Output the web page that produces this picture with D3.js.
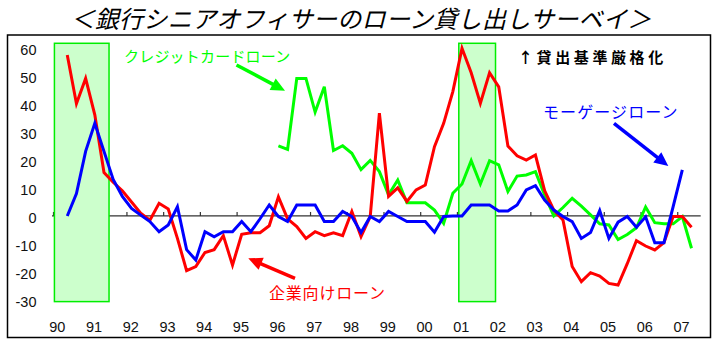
<!DOCTYPE html>
<html><head><meta charset="utf-8">
<script src="https://cdn.jsdelivr.net/npm/d3@7"></script>
<style>
html,body{margin:0;padding:0;background:#fff;}
svg{display:block;}
</style>
</head><body>
<svg id="chart" width="719" height="340"></svg>
<script>
// ---- data ----
const yearLabels = ["90","91","92","93","94","95","96","97","98","99","00","01","02","03","04","05","06","07"];
const yTicks = [60,50,40,30,20,10,0,-10,-20,-30];
// quarterly values, index 0 = 1990 Q1
const corporateLoans = [null,
  57.3,40,49,36, 15.5,12,9,5, 1,-1.5,4.5,2.5, -8,-19.5,-18,-13,
  -12,-7,-17.5,-6.5, -6,-6,-3.5,6.8, -1,-3.8,-8,-5.6, -7,-6,-7,1.6,
  -7.3,-0.2,36.6,7, 10,5.2,9.3,11, 24.7,33,44.3,59.7, 51,40.1,51,46,
  24.9,21.4,19.9,21.7, 9,2.1,-1.4,-18, -23.4,-20.2,-21.4,-24, -24.6,-17,-8.8,-10.7,
  -12.1,-9.5,-0.2,-0.2, -4];
const mortgageLoans = [null,
  0,8,23,33, 23,13,7,2.7, 0.3,-2,-5.6,-3.2, 3.3,-12,-15.7,-5.6,
  -7.4,-5.6,-5.6,-2, -5.6,-1,3.9,-0.2, -2,3.9,3.9,3.9, -2,-2,1.6,-0.2,
  -5.9,-0.2,-2,1.6, -0.2,-2,-2,-2, -5.8,-0.2,0,0, 3.9,3.9,3.9,1.8,
  1.8,3.9,9.3,10.8, 5.7,2.1,-0.2,-2, -8,-5.9,1.9,-8, -2.2,-0.2,-4,-0.3,
  -9.5,-9.5,3.3,16.4, null];
const creditCardLoans = [
  null,null,null,null, null,null,null,null, null,null,null,null, null,null,null,null,
  null,null,null,null, null,null,null,null,
  25,23.7,49,49, 37,46,23.3,25, 22.3,16.5,19.8,15.8, 7.5,12.8,4.7,4.7,
  4.7,2.1,-2.6,8.1, 11.4,19.7,11.4,19.7, 18.2,8.7,14.2,14.6, 15.8,7.5,0,3,
  6.3,3.5,0.4,-2.8, -3.2,-8.4,-6.6,-4.2, 3.2,-2.4,-2.8,-2.8, -0.2,-11.5];
// recession shading: [start quarter index, end quarter index]
const recessions = [[0.1,6.05],[44.15,48.15]];
const shadeRange = [-30.5, 61.5];

// ---- layout ----
const svg = d3.select("#chart");
const x = d3.scaleLinear().domain([0, 72]).range([53.5, 53.5 + 72*9.18]);
const y = d3.scaleLinear().domain([-30, 60]).range([300.2, 47.5]);

// title
svg.append("text").attr("x", 361).attr("y", 28).attr("text-anchor","middle")
  .attr("font-family","'Noto Sans CJK JP'").attr("font-size",24).attr("font-style","italic")
  .attr("letter-spacing",0.3)
  .attr("fill","#000").text("＜銀行シニアオフィサーのローン貸し出しサーベイ＞");

// frame
svg.append("rect").attr("x",7.5).attr("y",35).attr("width",703).attr("height",302.5)
  .attr("fill","#fff").attr("stroke","#000").attr("stroke-width",1.5);

// zero axis
svg.append("line").attr("x1",x(0)-1.5).attr("x2",x(70.5)).attr("y1",y(0)).attr("y2",y(0))
  .attr("stroke","#333").attr("stroke-width",1.3);
// year ticks (upward)
svg.selectAll(".tick").data(yearLabels).enter().append("line")
  .attr("x1",(d,i)=>x(i*4)).attr("x2",(d,i)=>x(i*4))
  .attr("y1",y(0)).attr("y2",y(0)-4).attr("stroke","#333").attr("stroke-width",1.2);

// shading
svg.selectAll(".shade").data(recessions).enter().append("rect")
  .attr("x",d=>x(d[0])).attr("width",d=>x(d[1])-x(d[0]))
  .attr("y",y(shadeRange[1])).attr("height",y(shadeRange[0])-y(shadeRange[1]))
  .attr("fill","#ccffcc").attr("stroke","#00ee00").attr("stroke-width",1.5);

// y labels
svg.selectAll(".ylab").data(yTicks).enter().append("text")
  .attr("x",36.5).attr("y",d=>y(d)+7).attr("text-anchor","end")
  .attr("font-family","'Liberation Sans', Arial, sans-serif").attr("font-size",14.5)
  .attr("fill","#111").text(d=>d);

// x labels
svg.selectAll(".xlab").data(yearLabels).enter().append("text")
  .attr("x",(d,i)=>x(i*4)+3.8).attr("y",332).attr("text-anchor","middle")
  .attr("font-family","'Liberation Sans', Arial, sans-serif").attr("font-size",14.5)
  .attr("fill","#111").text(d=>d);

// series
const line = d3.line().defined(d=>d!=null).x((d,i)=>x(i+0.5)).y(d=>y(d));
const series = [
  {v: creditCardLoans, c:"#00ff00"},
  {v: corporateLoans, c:"#ff0000"},
  {v: mortgageLoans, c:"#0000ff"}
];
series.forEach(s=>{
  svg.append("path").attr("d", line(s.v)).attr("fill","none")
    .attr("stroke",s.c).attr("stroke-width",3).attr("stroke-linejoin","miter");
});

// annotations
function arrow(x1,y1,x2,y2,color){
  const dx=x2-x1, dy=y2-y1, L=Math.hypot(dx,dy), ux=dx/L, uy=dy/L;
  const hl=14, hw=6.5;
  const bx=x2-ux*hl, by=y2-uy*hl;
  svg.append("line").attr("x1",x1).attr("y1",y1).attr("x2",bx+ux*2).attr("y2",by+uy*2)
    .attr("stroke",color).attr("stroke-width",3.5);
  svg.append("path").attr("d",`M${x2},${y2}L${bx-uy*hw},${by+ux*hw}L${bx+uy*hw},${by-ux*hw}Z`)
    .attr("fill",color);
}
arrow(236.5,65,285,90.7,"#00ff00");
arrow(295,278.3,248.3,258.3,"#ff0000");
arrow(614,123.3,668.3,166,"#0000ff");

const jp = "'Noto Sans CJK JP', sans-serif";
svg.append("text").attr("x",124).attr("y",62).attr("font-family",jp).attr("font-size",15)
  .attr("letter-spacing",0.2)
  .attr("fill","#00ff00").text("クレジットカードローン");
svg.append("text").attr("x",269).attr("y",299).attr("font-family",jp).attr("font-size",16)
  .attr("letter-spacing",0.8)
  .attr("fill","#ff0000").text("企業向けローン");
svg.append("text").attr("x",543).attr("y",118).attr("font-family",jp).attr("font-size",16)
  .attr("letter-spacing",1.1)
  .attr("fill","#0000ff").text("モーゲージローン");
svg.append("text").attr("x",518).attr("y",63).attr("font-family",jp).attr("font-size",15)
  .attr("font-weight","bold").attr("letter-spacing",3.6)
  .attr("fill","#000").text("↑貸出基準厳格化");
</script>
</body></html>
